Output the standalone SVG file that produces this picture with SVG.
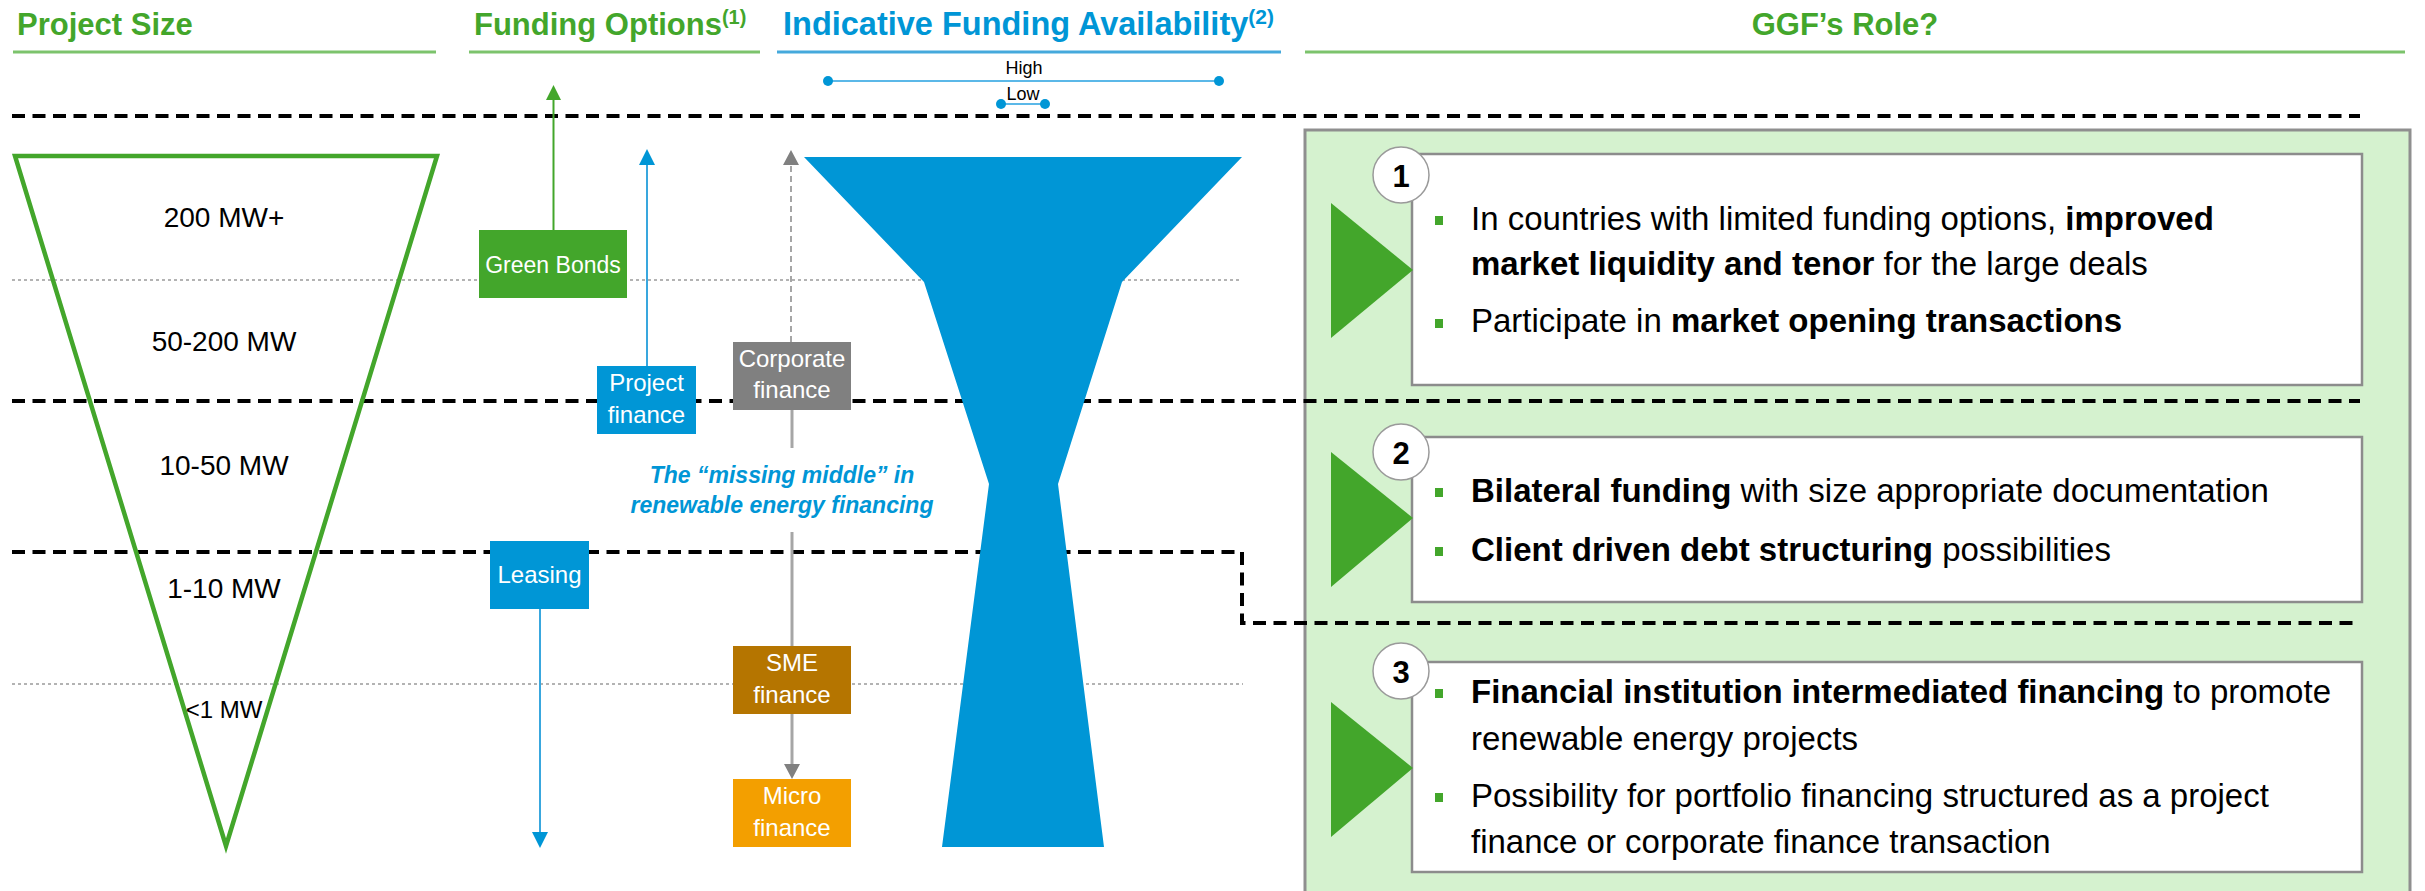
<svg xmlns="http://www.w3.org/2000/svg" width="2425" height="891" viewBox="0 0 2425 891">
  <style>
    text { font-family: "Liberation Sans", Arial, sans-serif; }
    .hdr { font-size: 31px; font-weight: bold; }
    .sup { font-size: 20px; }
    .green { fill: #43a62b; }
    .blue { fill: #0096d6; }
    .rule-g { stroke: #7cc36c; stroke-width: 3; }
    .rule-b { stroke: #45a9dc; stroke-width: 3; }
    .sep { fill: none; stroke: #000; stroke-width: 4; stroke-dasharray: 13 7.5; }
    .dot { fill: none; stroke: #9a9a9a; stroke-width: 1.3; stroke-dasharray: 3 3; }
    .size { font-size: 28px; fill: #000; text-anchor: middle; }
    .opt { font-size: 24px; fill: #fff; text-anchor: middle; }
    .role { font-size: 33px; fill: #000; }
    .role .b { font-weight: bold; }
    .bullet { fill: #43a62b; }
    .card { fill: #fff; stroke: #8c8c8c; stroke-width: 2.5; }
    .badge { fill: #fff; stroke: #9a9a9a; stroke-width: 1.5; }
    .num { font-size: 31px; font-weight: bold; text-anchor: middle; fill: #000; }
    .play { fill: #43a62b; }
  </style>
  <defs>
    <marker id="head-green" viewBox="0 0 15 15" markerWidth="15" markerHeight="15" refX="0" refY="7.5" orient="auto" markerUnits="userSpaceOnUse">
      <path d="M0,0 L15,7.5 L0,15 z" fill="#43a62b"/>
    </marker>
    <marker id="head-blue" viewBox="0 0 16 16" markerWidth="16" markerHeight="16" refX="0" refY="8" orient="auto" markerUnits="userSpaceOnUse">
      <path d="M0,0 L16,8 L0,16 z" fill="#0096d6"/>
    </marker>
    <marker id="head-gray" viewBox="0 0 15 16" markerWidth="15" markerHeight="16" refX="0" refY="8" orient="auto" markerUnits="userSpaceOnUse">
      <path d="M0,0 L15,8 L0,16 z" fill="#808080"/>
    </marker>
  </defs>

  <rect width="2425" height="891" fill="#fff"/>

  <!-- column headers -->
  <g id="headers">
    <text class="hdr green" x="17" y="35">Project Size</text>
    <line class="rule-g" x1="13" y1="52" x2="436" y2="52"/>
    <text class="hdr green" x="474" y="35">Funding Options<tspan class="sup" dy="-11">(1)</tspan></text>
    <line class="rule-g" x1="469" y1="52" x2="760" y2="52"/>
    <text class="hdr blue" x="783" y="35" style="font-size:32.5px">Indicative Funding Availability<tspan class="sup" dy="-11" style="font-size:21px">(2)</tspan></text>
    <line class="rule-b" x1="777" y1="52" x2="1281" y2="52"/>
    <text class="hdr green" x="1845" y="35" text-anchor="middle">GGF’s Role?</text>
    <line class="rule-g" x1="1305" y1="52" x2="2405" y2="52"/>
  </g>

  <!-- availability scale -->
  <g id="scale">
    <line x1="828" y1="81" x2="1219" y2="81" stroke="#5bb8e8" stroke-width="2"/>
    <circle cx="828" cy="81" r="5" fill="#0096d6"/>
    <circle cx="1219" cy="81" r="5" fill="#0096d6"/>
    <text x="1024" y="74" font-size="18" text-anchor="middle">High</text>
    <line x1="1001" y1="104" x2="1045" y2="104" stroke="#5bb8e8" stroke-width="2"/>
    <circle cx="1001" cy="104" r="5" fill="#0096d6"/>
    <circle cx="1045" cy="104" r="5" fill="#0096d6"/>
    <text x="1023" y="100" font-size="18" text-anchor="middle">Low</text>
  </g>

  <!-- right-hand panel background -->
  <rect id="role-panel" x="1305" y="130" width="1105" height="775" fill="#d5f2cf" stroke="#8f8f8f" stroke-width="3"/>

  <!-- size band guides -->
  <g id="guides">
    <line class="dot" x1="12" y1="280" x2="1242" y2="280"/>
    <line class="dot" x1="12" y1="684" x2="1243" y2="684"/>
    <line class="sep" x1="12" y1="116" x2="2360" y2="116"/>
    <line class="sep" x1="12" y1="401" x2="2360" y2="401"/>
    <path class="sep" d="M12,552 H1242 V623 H2358"/>
  </g>

  <!-- project size triangle -->
  <g id="project-size">
    <polygon points="15,156 437,156 226,846" fill="none" stroke="#43a62b" stroke-width="4.5"/>
    <text class="size" x="224" y="227">200 MW+</text>
    <text class="size" x="224" y="351">50-200 MW</text>
    <text class="size" x="224" y="475">10-50 MW</text>
    <text class="size" x="224" y="598">1-10 MW</text>
    <text class="size" x="224" y="718" style="font-size:24px">&lt;1 MW</text>
  </g>

  <!-- connectors between funding options -->
  <g id="connectors" fill="none">
    <line x1="553.5" y1="230" x2="553.5" y2="100" stroke="#43a62b" stroke-width="2" marker-end="url(#head-green)"/>
    <line x1="647" y1="366" x2="647" y2="165" stroke="#39a7de" stroke-width="2" marker-end="url(#head-blue)"/>
    <line x1="540" y1="609" x2="540" y2="832" stroke="#39a7de" stroke-width="2" marker-end="url(#head-blue)"/>
    <line x1="791" y1="342" x2="791" y2="165" stroke="#a6a6a6" stroke-width="2" stroke-dasharray="6 4" marker-end="url(#head-gray)"/>
    <line x1="792" y1="410" x2="792" y2="448" stroke="#a6a6a6" stroke-width="3"/>
    <line x1="792" y1="532" x2="792" y2="646" stroke="#a6a6a6" stroke-width="3"/>
    <line x1="792" y1="714" x2="792" y2="764" stroke="#a6a6a6" stroke-width="3" marker-end="url(#head-gray)"/>
  </g>

  <!-- funding option boxes -->
  <g id="green-bonds">
    <rect x="479" y="230" width="148" height="68" fill="#43a62b"/>
    <text class="opt" x="553" y="273" style="font-size:23px">Green Bonds</text>
  </g>
  <g id="project-finance">
    <rect x="597" y="366" width="99" height="68" fill="#0096d6"/>
    <text class="opt" x="646.5" y="391">Project</text>
    <text class="opt" x="646.5" y="423">finance</text>
  </g>
  <g id="corporate-finance">
    <rect x="733" y="342" width="118" height="68" fill="#808080"/>
    <text class="opt" x="792" y="367">Corporate</text>
    <text class="opt" x="792" y="398">finance</text>
  </g>
  <g id="leasing">
    <rect x="490" y="541" width="99" height="68" fill="#0096d6"/>
    <text class="opt" x="539.5" y="583">Leasing</text>
  </g>
  <g id="sme-finance">
    <rect x="733" y="646" width="118" height="68" fill="#b57500"/>
    <text class="opt" x="792" y="671">SME</text>
    <text class="opt" x="792" y="703">finance</text>
  </g>
  <g id="micro-finance">
    <rect x="733" y="779" width="118" height="68" fill="#f39f00"/>
    <text class="opt" x="792" y="804">Micro</text>
    <text class="opt" x="792" y="836">finance</text>
  </g>

  <g id="missing-middle">
    <text x="782" y="483" font-size="23" font-weight="bold" font-style="italic" fill="#0096d6" text-anchor="middle">The “missing middle” in</text>
    <text x="782" y="513" font-size="23" font-weight="bold" font-style="italic" fill="#0096d6" text-anchor="middle">renewable energy financing</text>
  </g>

  <!-- funding availability funnel -->
  <polygon id="funnel" points="804,157 1242,157 1122,282 1058,484 1104,847 942,847 989,484 924,282" fill="#0096d6"/>

  <!-- GGF role rows -->
  <g id="role-1">
    <rect class="card" x="1412" y="154" width="950" height="231"/>
    <polygon class="play" points="1331,203 1413,270 1331,338"/>
    <circle class="badge" cx="1401" cy="175" r="28"/>
    <text class="num" x="1401" y="187">1</text>
    <rect class="bullet" x="1435" y="216" width="8" height="9"/>
    <text class="role" x="1471" y="230">In countries with limited funding options, <tspan class="b">improved</tspan></text>
    <text class="role" x="1471" y="275"><tspan class="b">market liquidity and tenor</tspan> for the large deals</text>
    <rect class="bullet" x="1435" y="319" width="8" height="9"/>
    <text class="role" x="1471" y="332">Participate in <tspan class="b">market opening transactions</tspan></text>
  </g>
  <g id="role-2">
    <rect class="card" x="1412" y="437" width="950" height="165"/>
    <polygon class="play" points="1331,452 1413,518 1331,587"/>
    <circle class="badge" cx="1401" cy="452" r="28"/>
    <text class="num" x="1401" y="464">2</text>
    <rect class="bullet" x="1435" y="488" width="8" height="9"/>
    <text class="role" x="1471" y="502"><tspan class="b">Bilateral funding</tspan> with size appropriate documentation</text>
    <rect class="bullet" x="1435" y="547" width="8" height="9"/>
    <text class="role" x="1471" y="561"><tspan class="b">Client driven debt structuring</tspan> possibilities</text>
  </g>
  <g id="role-3">
    <rect class="card" x="1412" y="662" width="950" height="210"/>
    <polygon class="play" points="1331,702 1413,768 1331,837"/>
    <circle class="badge" cx="1401" cy="671" r="28"/>
    <text class="num" x="1401" y="683">3</text>
    <rect class="bullet" x="1435" y="689" width="8" height="9"/>
    <text class="role" x="1471" y="703"><tspan class="b">Financial institution intermediated financing</tspan> to promote</text>
    <text class="role" x="1471" y="750">renewable energy projects</text>
    <rect class="bullet" x="1435" y="793" width="8" height="9"/>
    <text class="role" x="1471" y="807">Possibility for portfolio financing structured as a project</text>
    <text class="role" x="1471" y="853">finance or corporate finance transaction</text>
  </g>
</svg>
